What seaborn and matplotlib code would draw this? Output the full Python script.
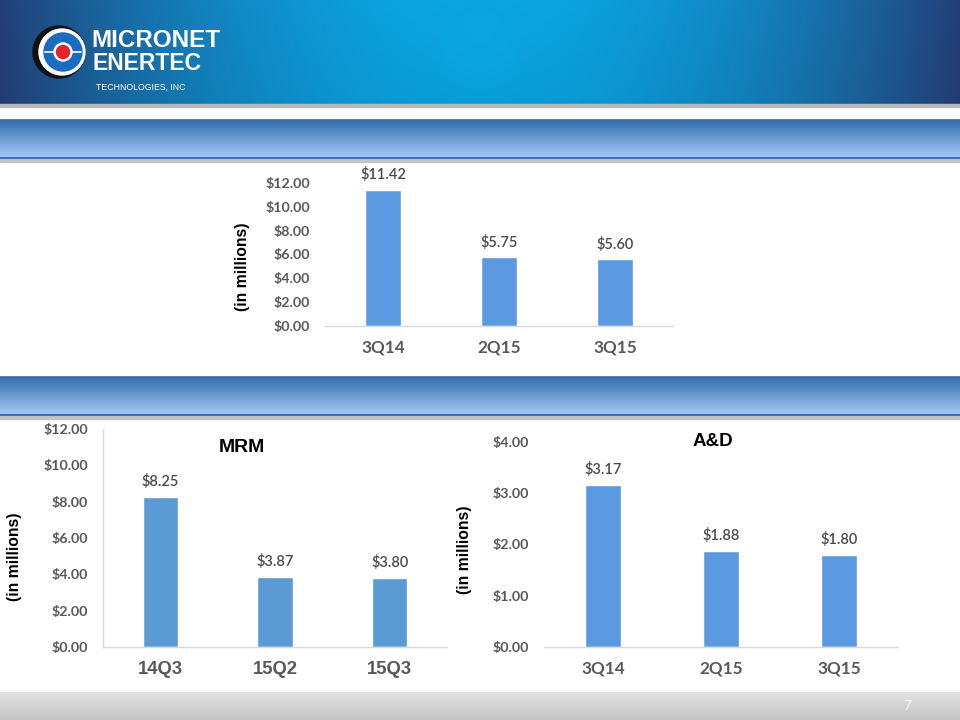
import numpy as np
import pandas as pd
import matplotlib
matplotlib.use("Agg")
import matplotlib.pyplot as plt
import seaborn as sns
from matplotlib.patches import Circle, Rectangle

# ---------------- data ----------------
top_cats = ["3Q14", "2Q15", "3Q15"]
top_vals = [11.42, 5.75, 5.60]
top_ticks = [0, 2, 4, 6, 8, 10, 12]

mrm_cats = ["14Q3", "15Q2", "15Q3"]
mrm_vals = [8.25, 3.87, 3.80]
mrm_ticks = [0, 2, 4, 6, 8, 10, 12]

ad_cats = ["3Q14", "2Q15", "3Q15"]
ad_vals = [3.17, 1.88, 1.80]
ad_ticks = [0, 1, 2, 3, 4]

# ---------------- figure ----------------
sns.set_theme(style="white")
plt.rcParams["font.family"] = ["Lato", "DejaVu Sans"]

W, H = 960, 720
fig = plt.figure(figsize=(9.6, 7.2), dpi=100)
fig.patch.set_facecolor("white")

bg = fig.add_axes([0, 0, 1, 1], zorder=0)
bg.set_xlim(0, W)
bg.set_ylim(H, 0)
bg.axis("off")


def mix(c1, c2, t):
    c1 = np.array(matplotlib.colors.to_rgb(c1))
    c2 = np.array(matplotlib.colors.to_rgb(c2))
    t = np.clip(t, 0, 1)[..., None]
    return c1 * (1 - t) + c2 * t


# header gradient
xs = np.linspace(0, W, 480)
ys = np.linspace(0, 104, 60)
X, Y = np.meshgrid(xs, ys)
t = np.abs(X - 480) / 480.0
t = t ** 1.9
img = mix("#0aa6e4", "#243f78", t)
d = np.sqrt((X - 480) ** 2 + (Y - 50) ** 2)
glow = np.clip(1 - d / 42, 0, 1) ** 0.4 * 0.05
img = np.clip(img + glow[..., None] * np.array([0.0, 0.3, 0.3]), 0, 1)
img = img * (1 - 0.05 * (Y / 104))[..., None]
bg.imshow(img, extent=(0, W, 104, 0), aspect="auto", zorder=1, interpolation="bilinear")
bg.add_patch(Rectangle((0, 104), W, 3, color="#b8b8b8", zorder=1))


def banner(y0, y1):
    yy = np.linspace(0, 1, 40)
    g = mix("#346fad", "#a6c9f6", yy)[:, None, :] * np.ones((1, 4, 1))
    bg.imshow(g, extent=(0, W, y1, y0), aspect="auto", zorder=1, interpolation="bilinear")
    bg.plot([0, W], [y0, y0], color="#3a6aa8", lw=1.2, zorder=2)
    bg.plot([0, W], [y1, y1], color="#3f6fb0", lw=1.5, zorder=2)
    bg.add_patch(Rectangle((0, y1 + 0.8), W, 3, color="#c4c4c4", zorder=1))


banner(120, 158)
banner(377, 415)

# footer
yy = np.linspace(0, 1, 30)
g = mix("#e2e2e2", "#c4c4c4", yy)[:, None, :] * np.ones((1, 4, 1))
bg.imshow(g, extent=(0, W, 720, 692), aspect="auto", zorder=1, interpolation="bilinear")
bg.text(907, 706, "7", color="#f4f4f4", fontsize=10, ha="center", va="center", zorder=3)

# logo
cx, cy = 62, 52
bg.add_patch(Circle((cx - 3, cy), 26, color="#111111", zorder=3))
bg.add_patch(Circle((cx, cy), 23, color="white", zorder=3))
bg.add_patch(Circle((cx + 1, cy), 19, color="#1b6cc0", zorder=3))
bg.plot([cx - 17, cx + 19], [cy, cy], color="white", lw=1.2, zorder=4)
bg.add_patch(Circle((cx + 1, cy), 9, color="white", zorder=5))
bg.add_patch(Circle((cx + 1, cy), 6.5, color="#e3242b", zorder=6))
logo_font = ["Liberation Sans", "DejaVu Sans"]
bg.text(91, 40.5, "MICRONET", color="white", fontsize=17.5, fontweight="bold",
        family=logo_font, ha="left", va="center", zorder=5)
bg.text(92, 64, "ENERTEC", color="white", fontsize=16.5, fontweight="bold",
        family=logo_font, ha="left", va="center", zorder=5)
bg.text(96, 87.5, "TECHNOLOGIES, INC", color="white", fontsize=6.3,
        family=logo_font, ha="left", va="center", zorder=5)


def px_rect(l, r, b, t):
    return [l / W, 1 - b / H, (r - l) / W, (b - t) / H]


GRAY = "#595959"


def chart(rect, cats, vals, ticks, color, cat_font, cat_size, boundary_ticks=False):
    ax = fig.add_axes(rect, zorder=2)
    ax.set_facecolor("none")
    df = pd.DataFrame({"cat": cats, "val": vals})
    sns.barplot(data=df, x="cat", y="val", order=cats, ax=ax, color=color,
                saturation=1, width=0.31, errorbar=None)
    ax.set_xlim(-0.5, len(cats) - 0.5)
    ax.set_ylim(ticks[0], ticks[-1])
    ax.set_yticks(ticks)
    ax.set_yticklabels([f"${v:.2f}" for v in ticks], fontsize=10.3,
                       fontweight="bold", color=GRAY, family=["Lato", "DejaVu Sans"])
    ax.set_xticks(range(len(cats)))
    ax.set_xticklabels(cats, fontsize=cat_size, fontweight="bold", color=GRAY,
                       family=cat_font)
    ax.set_xlabel("")
    ax.set_ylabel("")
    ax.tick_params(axis="y", length=0, pad=11)
    ax.tick_params(axis="x", which="major", length=0, pad=10)
    for s in ["top", "right", "left"]:
        ax.spines[s].set_visible(False)
    ax.spines["bottom"].set_color("#d9d9d9")
    ax.spines["bottom"].set_linewidth(1.0)
    if boundary_ticks:
        ax.spines["left"].set_visible(True)
        ax.spines["left"].set_color("#d9d9d9")
        ax.spines["left"].set_linewidth(1.0)
        ax.set_xticks([i - 0.5 for i in range(len(cats) + 1)], minor=True)
        ax.tick_params(axis="x", which="minor", length=6, width=1.0,
                       color="#d9d9d9", direction="out")
    for p, v in zip(ax.patches, vals):
        ax.annotate(f"${v:.2f}", (p.get_x() + p.get_width() / 2, v),
                    xytext=(0, 5.5), textcoords="offset points", ha="center",
                    va="bottom", fontsize=10.5, color="#4a4a4a", annotation_clip=False,
                    fontweight="semibold", family=["Lato", "DejaVu Sans"])
    ax.grid(False)
    return ax


chart(px_rect(325, 673, 326, 183), top_cats, top_vals, top_ticks, "#5b9ae0",
      ["Lato", "DejaVu Sans"], 12.3)
chart(px_rect(103, 447, 647, 429), mrm_cats, mrm_vals, mrm_ticks, "#5b9bd5",
      ["Liberation Sans", "DejaVu Sans"], 13.3, boundary_ticks=True)
chart(px_rect(544, 898, 647, 442), ad_cats, ad_vals, ad_ticks, "#5b9ae0",
      ["Lato", "DejaVu Sans"], 12.3)

# axis captions and titles
arial = ["Liberation Sans", "DejaVu Sans"]
for (x, y) in [(242, 267), (15, 557), (465, 550)]:
    bg.text(x, y, "(in millions)", rotation=90, ha="center", va="center",
            fontsize=11.3, fontweight="bold", color="black", family=arial, zorder=5)
bg.text(242, 448, "MRM", ha="center", va="center", fontsize=14, fontweight="bold",
        color="black", family=arial, zorder=5)
bg.text(713, 441, "A&D", ha="center", va="center", fontsize=13.5, fontweight="bold",
        color="black", family=arial, zorder=5)

fig.savefig("out.png", dpi=100, facecolor="white")
